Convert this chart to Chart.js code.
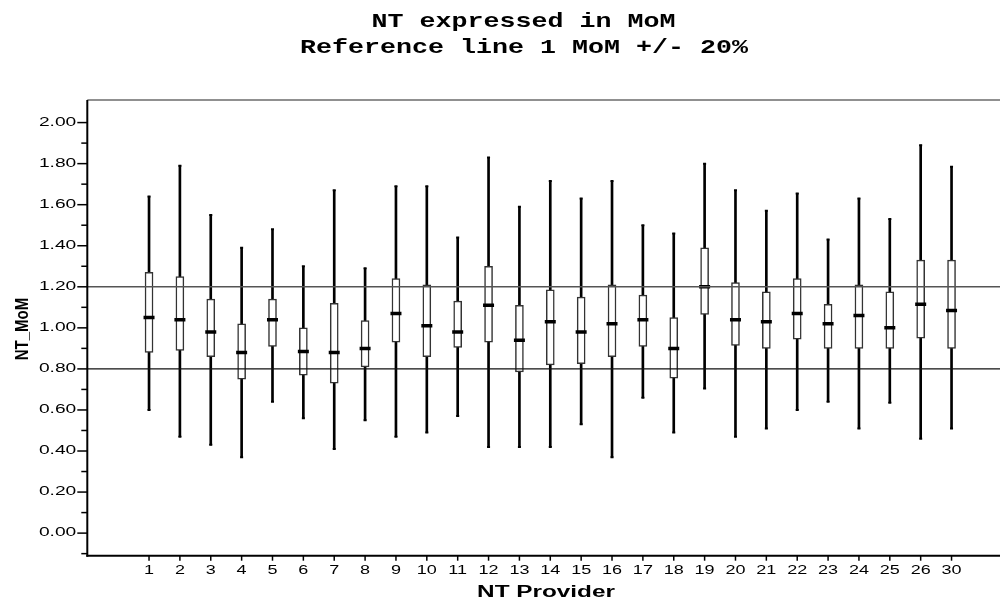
<!DOCTYPE html>
<html>
<head>
<meta charset="utf-8">
<title>NT expressed in MoM</title>
<script src="https://cdn.jsdelivr.net/npm/chart.js@4.4.1/dist/chart.umd.min.js"></script>
<style>
  html, body { margin: 0; padding: 0; background: #fff; overflow: hidden; }
  canvas { display: block; }
</style>
</head>
<body>
<canvas id="graficoMoM" width="1000" height="598"></canvas>
<script>
// Valores (NT em MoM por provedor)
const providers   = ['1','2','3','4','5','6','7','8','9','10','11','12','13','14','15','16','17','18','19','20','21','22','23','24','25','26','30'];
const whiskerHigh = [1.64, 1.79, 1.55, 1.39, 1.48, 1.30, 1.67, 1.29, 1.69, 1.69, 1.44, 1.83, 1.59, 1.715, 1.63, 1.715, 1.50, 1.46, 1.80, 1.67, 1.57, 1.655, 1.43, 1.63, 1.53, 1.89, 1.785];
const q3          = [1.27, 1.25, 1.14, 1.02, 1.14, 1.00, 1.12, 1.035, 1.24, 1.21, 1.13, 1.30, 1.11, 1.185, 1.15, 1.21, 1.16, 1.05, 1.39, 1.22, 1.175, 1.24, 1.115, 1.21, 1.175, 1.33, 1.33];
const median      = [1.05, 1.04, 0.98, 0.88, 1.04, 0.885, 0.88, 0.90, 1.07, 1.01, 0.98, 1.11, 0.94, 1.03, 0.98, 1.02, 1.04, 0.90, 1.20, 1.04, 1.03, 1.07, 1.02, 1.06, 1.00, 1.115, 1.085];
const q1          = [0.88, 0.89, 0.86, 0.75, 0.91, 0.77, 0.73, 0.81, 0.93, 0.86, 0.905, 0.93, 0.785, 0.82, 0.825, 0.86, 0.91, 0.755, 1.065, 0.915, 0.90, 0.945, 0.90, 0.90, 0.90, 0.95, 0.90];
const whiskerLow  = [0.60, 0.47, 0.43, 0.37, 0.64, 0.56, 0.41, 0.55, 0.47, 0.49, 0.57, 0.42, 0.42, 0.42, 0.53, 0.37, 0.66, 0.49, 0.705, 0.47, 0.51, 0.60, 0.64, 0.51, 0.635, 0.46, 0.51];

const refLines    = [0.8, 1.2];
const yTickValues = [-0.1, 0, 0.1, 0.2, 0.3, 0.4, 0.5, 0.6, 0.7, 0.8, 0.9, 1.0, 1.1, 1.2, 1.3, 1.4, 1.5, 1.6, 1.7, 1.8, 1.9, 2.0];
const titleLines  = ['NT expressed in MoM', 'Reference line 1 MoM +/- 20%'];
const xTitle      = 'NT Provider';
const yTitle      = 'NT_MoM';

const posicoes = providers.map((p, i) => i + 1);

// texto esticado na horizontal, como no original
function textoEsticado(ctx, texto, x, y, fonte, sx, sy, align, baseline, girar) {
  ctx.save();
  ctx.translate(x, y);
  if (girar) ctx.rotate(-Math.PI / 2);
  ctx.scale(sx, sy);
  ctx.font = fonte;
  ctx.fillStyle = '#000';
  ctx.textAlign = align;
  ctx.textBaseline = baseline;
  ctx.fillText(texto, 0, 0);
  ctx.restore();
}

function linha(ctx, x1, y1, x2, y2) {
  ctx.beginPath();
  ctx.moveTo(x1, y1);
  ctx.lineTo(x2, y2);
  ctx.stroke();
}

const molduraPlugin = {
  id: 'moldura',
  afterDatasetsDraw(chart) {
    const ctx = chart.ctx;
    const area = chart.chartArea;
    const yScale = chart.scales.y;
    ctx.save();
    refLines.forEach((v, i) => {
      const y = yScale.getPixelForValue(v);
      ctx.strokeStyle = i === 0 ? '#111' : '#555';
      ctx.lineWidth = i === 0 ? 1.2 : 1.6;
      linha(ctx, area.left, y, area.right, y);
    });
    ctx.restore();
  },
  afterDraw(chart) {
    const ctx = chart.ctx;
    const area = chart.chartArea;
    const xScale = chart.scales.x;
    const yScale = chart.scales.y;

    ctx.save();
    // borda de cima
    ctx.strokeStyle = '#222';
    ctx.lineWidth = 1.2;
    linha(ctx, area.left, area.top, area.right, area.top);

    // eixos
    ctx.strokeStyle = '#000';
    ctx.lineWidth = 2;
    linha(ctx, area.left, area.top, area.left, area.bottom + 1);
    linha(ctx, area.left - 1, area.bottom, area.right, area.bottom);

    // marcas do eixo y
    ctx.lineWidth = 1.5;
    yTickValues.forEach(v => {
      const y = yScale.getPixelForValue(v);
      const maior = Math.round(v * 10) % 2 === 0;
      linha(ctx, area.left - (maior ? 10 : 6), y, area.left, y);
      if (maior && v >= 0) {
        textoEsticado(ctx, v.toFixed(2), area.left - 11, y, '12px "Liberation Sans"', 1.6, 1, 'right', 'middle');
      }
    });

    // marcas do eixo x
    posicoes.forEach((p, i) => {
      const x = xScale.getPixelForValue(p);
      linha(ctx, x, area.bottom, x, area.bottom + 5);
      textoEsticado(ctx, providers[i], x, area.bottom + 15, '12px "Liberation Sans"', 1.5, 1, 'center', 'middle');
    });
    ctx.restore();

    // titulos
    textoEsticado(ctx, titleLines[0], 523.5, 27.3, 'bold 21px "Liberation Mono"', 1.27, 1, 'center', 'alphabetic');
    textoEsticado(ctx, titleLines[1], 524, 53.3, 'bold 21px "Liberation Mono"', 1.27, 1, 'center', 'alphabetic');
    textoEsticado(ctx, xTitle, 546, 596.5, 'bold 16px "Liberation Sans"', 1.52, 1, 'center', 'alphabetic');
    textoEsticado(ctx, yTitle, 28.3, 329, 'bold 15px "Liberation Sans"', 1.0, 1.22, 'center', 'alphabetic', true);
  }
};

function criarGrafico() {
  const ctx = document.getElementById('graficoMoM').getContext('2d');
  const pontas = posicoes.map((x, i) => ({ x, y: whiskerHigh[i] }))
    .concat(posicoes.map((x, i) => ({ x, y: whiskerLow[i] })));

  new Chart(ctx, {
    type: 'bar',
    data: {
      datasets: [
        {
          label: 'whisker',
          data: posicoes.map((x, i) => ({ x, y: [whiskerLow[i], whiskerHigh[i]] })),
          backgroundColor: '#000',
          barThickness: 2,
          grouped: false,
          order: 3
        },
        {
          label: 'box',
          data: posicoes.map((x, i) => ({ x, y: [q1[i], q3[i]] })),
          backgroundColor: '#fff',
          borderColor: '#333',
          borderWidth: 1.5,
          borderSkipped: false,
          barThickness: 8,
          grouped: false,
          order: 2
        },
        {
          type: 'scatter',
          label: 'median',
          data: posicoes.map((x, i) => ({ x, y: median[i] })),
          pointStyle: 'line',
          pointRadius: 5.5,
          borderColor: '#000',
          borderWidth: 3.5,
          order: 1
        },
        {
          type: 'scatter',
          label: 'caps',
          data: pontas,
          pointStyle: 'line',
          pointRadius: 1.5,
          borderColor: '#000',
          borderWidth: 2,
          order: 1
        }
      ]
    },
    options: {
      responsive: false,
      animation: false,
      events: [],
      layout: { autoPadding: false, padding: { left: 87.3, top: 100, right: 0, bottom: 42.3 } },
      plugins: {
        legend: { display: false },
        tooltip: { enabled: false },
        title: { display: false }
      },
      scales: {
        x: { type: 'linear', display: false, min: -1, max: 28.57, offset: false },
        y: { type: 'linear', display: false, min: -0.11, max: 2.11 }
      }
    },
    plugins: [molduraPlugin]
  });
}

window.onload = criarGrafico;
</script>
</body>
</html>
